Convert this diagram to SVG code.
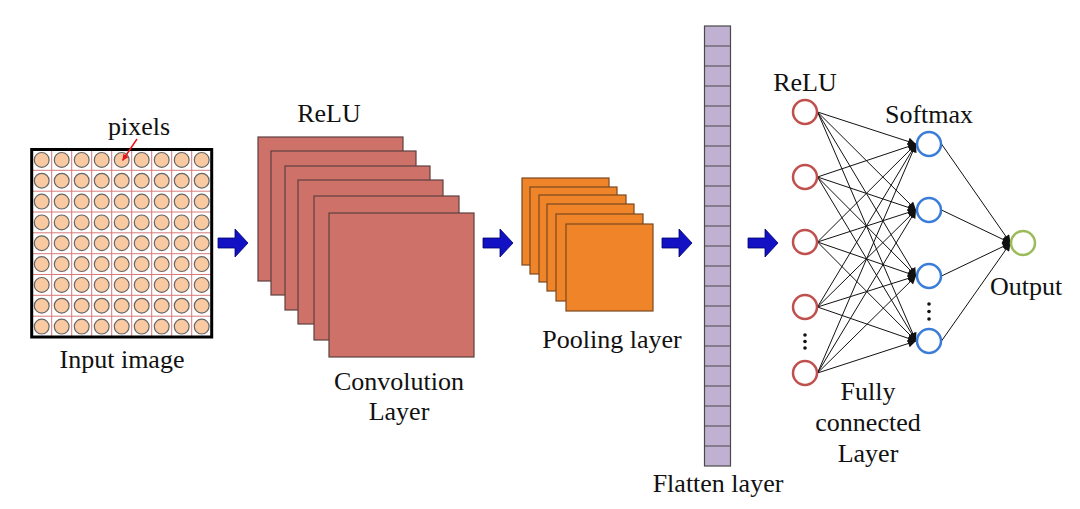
<svg xmlns="http://www.w3.org/2000/svg" xmlns:xlink="http://www.w3.org/1999/xlink" width="1080" height="509" viewBox="0 0 1080 509">
<style>
text{font-family:"Liberation Serif","Times New Roman",serif;font-size:26px;fill:#111;text-anchor:middle}
.px{fill:#f9c9a1;stroke:#666;stroke-width:1.2}
.grid{stroke:#d77a7a;stroke-width:1;fill:none}
.conv{fill:#cd7169;stroke:#5e4040;stroke-width:1.2}
.pool{fill:#f08428;stroke:#7a4820;stroke-width:1.2}
.flat{fill:#c0b1d3;stroke:#4a4a4a;stroke-width:1.2}
.barr{fill:#1212c4;stroke:#00006a;stroke-width:0.8}
.edge{stroke:#111;stroke-width:1;fill:none;marker-end:url(#ah)}
.nr{fill:#fff;stroke:#c0504d;stroke-width:2.5}
.nb{fill:#fff;stroke:#3a7dd8;stroke-width:2.5}
.ng{fill:#fff;stroke:#9bbb59;stroke-width:2.5}
.dot{fill:#111}
</style>
<defs>
<marker id="ah" viewBox="0 0 10 10" refX="10" refY="5" markerWidth="9" markerHeight="8" markerUnits="userSpaceOnUse" orient="auto">
<path d="M0,0 L10,5 L0,10 z" fill="#111"/>
</marker>
<marker id="rah" viewBox="0 0 10 10" refX="10" refY="5" markerWidth="7" markerHeight="6" markerUnits="userSpaceOnUse" orient="auto">
<path d="M0,0 L10,5 L0,10 z" fill="#e8141b"/>
</marker>
<polygon id="barrow" class="barr" points="0,-5 17,-5 17,-14 30,0 17,14 17,5 0,5"/>
<g id="pxrow">
<circle class="px" cx="41.7" cy="0" r="7.4"/>
<circle class="px" cx="61.7" cy="0" r="7.4"/>
<circle class="px" cx="81.7" cy="0" r="7.4"/>
<circle class="px" cx="101.7" cy="0" r="7.4"/>
<circle class="px" cx="121.7" cy="0" r="7.4"/>
<circle class="px" cx="141.7" cy="0" r="7.4"/>
<circle class="px" cx="161.7" cy="0" r="7.4"/>
<circle class="px" cx="181.7" cy="0" r="7.4"/>
<circle class="px" cx="201.7" cy="0" r="7.4"/>
</g>
</defs>
<rect width="1080" height="509" fill="#fff"/>

<g id="input-image">
<path class="grid" d="M51.7,149.5V337 M71.7,149.5V337 M91.7,149.5V337 M111.7,149.5V337 M131.7,149.5V337 M151.7,149.5V337 M171.7,149.5V337 M191.7,149.5V337 M31.7,170.3H211.7 M31.7,191.2H211.7 M31.7,212H211.7 M31.7,232.8H211.7 M31.7,253.7H211.7 M31.7,274.5H211.7 M31.7,295.3H211.7 M31.7,316.2H211.7"/>
<use xlink:href="#pxrow" y="159.9"/>
<use xlink:href="#pxrow" y="180.7"/>
<use xlink:href="#pxrow" y="201.6"/>
<use xlink:href="#pxrow" y="222.4"/>
<use xlink:href="#pxrow" y="243.2"/>
<use xlink:href="#pxrow" y="264.1"/>
<use xlink:href="#pxrow" y="284.9"/>
<use xlink:href="#pxrow" y="305.7"/>
<use xlink:href="#pxrow" y="326.6"/>
<rect x="31.7" y="149.5" width="180" height="187.5" fill="none" stroke="#000" stroke-width="3"/>
<line x1="137" y1="139" x2="122.5" y2="160.5" stroke="#e8141b" stroke-width="1.5" marker-end="url(#rah)"/>
<text x="139" y="135">pixels</text>
<text x="122" y="368">Input image</text>
</g>

<g id="convolution-layer">
<rect class="conv" x="258" y="137" width="145" height="144"/>
<rect class="conv" x="271" y="151" width="145" height="144"/>
<rect class="conv" x="285" y="166" width="145" height="144"/>
<rect class="conv" x="298" y="180" width="145" height="144"/>
<rect class="conv" x="314" y="196" width="145" height="144"/>
<rect class="conv" x="329" y="213" width="145" height="144"/>
<text x="329" y="122">ReLU</text>
<text x="399" y="390">Convolution</text>
<text x="399" y="420">Layer</text>
</g>

<g id="pooling-layer">
<rect class="pool" x="522" y="178" width="87" height="87"/>
<rect class="pool" x="530" y="187" width="87" height="87"/>
<rect class="pool" x="539" y="195" width="87" height="87"/>
<rect class="pool" x="547" y="204" width="87" height="87"/>
<rect class="pool" x="556" y="214" width="87" height="87"/>
<rect class="pool" x="566" y="224" width="87" height="87"/>
<text x="612" y="348">Pooling layer</text>
</g>

<g id="flatten-layer">
<rect class="flat" x="704.5" y="26" width="26" height="440"/>
<path stroke="#4a4a4a" stroke-width="1.2" d="M704.5,46H730.5 M704.5,66H730.5 M704.5,86H730.5 M704.5,106H730.5 M704.5,126H730.5 M704.5,146H730.5 M704.5,166H730.5 M704.5,186H730.5 M704.5,206H730.5 M704.5,226H730.5 M704.5,246H730.5 M704.5,266H730.5 M704.5,286H730.5 M704.5,306H730.5 M704.5,326H730.5 M704.5,346H730.5 M704.5,366H730.5 M704.5,386H730.5 M704.5,406H730.5 M704.5,426H730.5 M704.5,446H730.5"/>
<text x="718" y="492">Flatten layer</text>
</g>

<g id="connectors">
<use xlink:href="#barrow" x="218" y="243"/>
<use xlink:href="#barrow" x="483" y="243"/>
<use xlink:href="#barrow" x="662" y="243"/>
<use xlink:href="#barrow" x="748" y="243"/>
<path class="edge" d="M817.5,112L916,144"/>
<path class="edge" d="M817.5,112L916,210"/>
<path class="edge" d="M817.5,112L916,276"/>
<path class="edge" d="M817.5,112L916,341"/>
<path class="edge" d="M817.5,177L916,144"/>
<path class="edge" d="M817.5,177L916,210"/>
<path class="edge" d="M817.5,177L916,276"/>
<path class="edge" d="M817.5,177L916,341"/>
<path class="edge" d="M817.5,242L916,144"/>
<path class="edge" d="M817.5,242L916,210"/>
<path class="edge" d="M817.5,242L916,276"/>
<path class="edge" d="M817.5,242L916,341"/>
<path class="edge" d="M817.5,307L916,144"/>
<path class="edge" d="M817.5,307L916,210"/>
<path class="edge" d="M817.5,307L916,276"/>
<path class="edge" d="M817.5,307L916,341"/>
<path class="edge" d="M817.5,373L916,144"/>
<path class="edge" d="M817.5,373L916,210"/>
<path class="edge" d="M817.5,373L916,276"/>
<path class="edge" d="M817.5,373L916,341"/>
<path class="edge" d="M941.5,144L1010.5,243"/>
<path class="edge" d="M941.5,210L1010.5,243"/>
<path class="edge" d="M941.5,276L1010.5,243"/>
<path class="edge" d="M941.5,341L1010.5,243"/>
</g>

<g id="fc-relu-nodes">
<circle class="nr" cx="805" cy="112" r="12"/>
<circle class="nr" cx="805" cy="177" r="12"/>
<circle class="nr" cx="805" cy="242" r="12"/>
<circle class="nr" cx="805" cy="307" r="12"/>
<circle class="nr" cx="805" cy="373" r="12"/>
<circle class="dot" cx="805" cy="335" r="1.8"/>
<circle class="dot" cx="805" cy="341.5" r="1.8"/>
<circle class="dot" cx="805" cy="348" r="1.8"/>
<text x="805" y="91">ReLU</text>
</g>

<g id="fc-softmax-nodes">
<circle class="nb" cx="929" cy="144" r="12"/>
<circle class="nb" cx="929" cy="210" r="12"/>
<circle class="nb" cx="929" cy="276" r="12"/>
<circle class="nb" cx="929" cy="341" r="12"/>
<circle class="dot" cx="929" cy="304" r="1.8"/>
<circle class="dot" cx="929" cy="311.5" r="1.8"/>
<circle class="dot" cx="929" cy="319" r="1.8"/>
<text x="929" y="123">Softmax</text>
</g>

<g id="output-node">
<circle class="ng" cx="1023" cy="243" r="12"/>
<text x="1026" y="295">Output</text>
</g>

<g id="fc-label">
<text x="868" y="400">Fully</text>
<text x="868" y="431">connected</text>
<text x="868" y="462">Layer</text>
</g>
</svg>
